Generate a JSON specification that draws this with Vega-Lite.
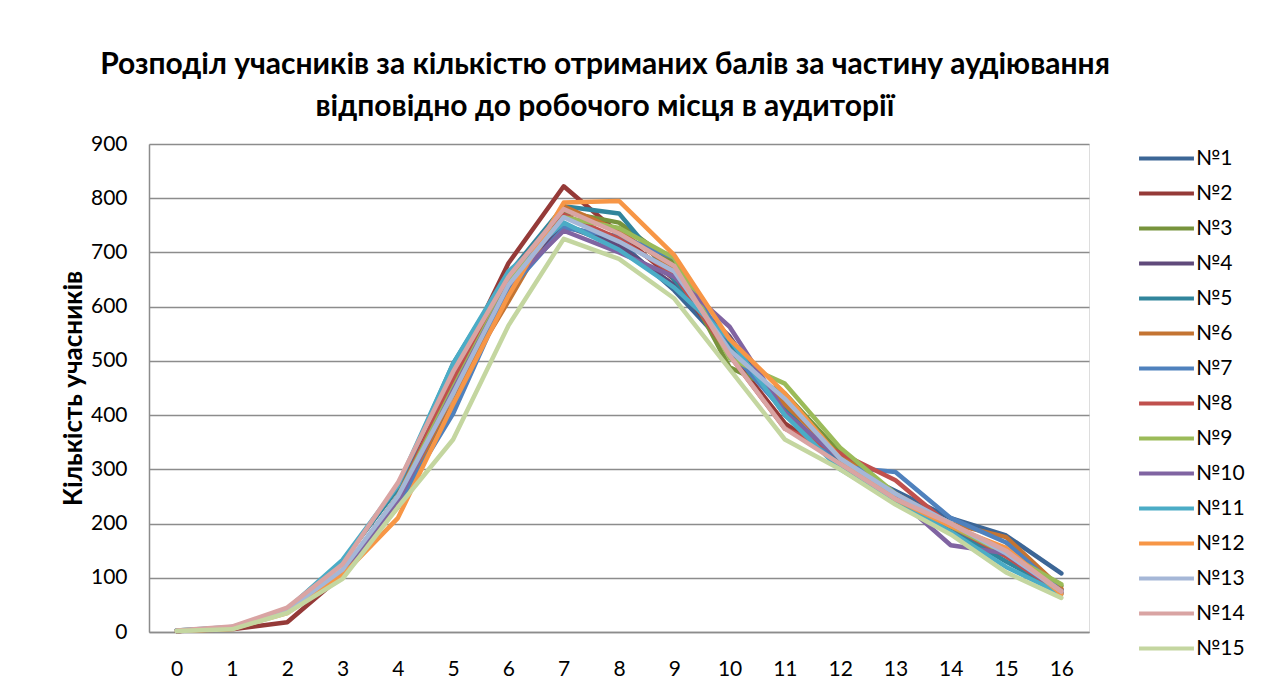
{
  "$schema": "https://vega.github.io/schema/vega-lite/v6.json",
  "width": 940,
  "height": 488,
  "autosize": {"type": "none"},
  "padding": {"left": 149, "top": 144, "right": 196, "bottom": 63},
  "background": "white",
  "title": {
    "text": ["Розподіл учасників за кількістю отриманих балів  за частину аудіювання", "відповідно до робочого місця в аудиторії"],
    "font": "Lato",
    "fontSize": 30,
    "fontWeight": "bold",
    "color": "#000000",
    "lineHeight": 42,
    "anchor": "middle",
    "dx": -14,
    "offset": 11
  },
  "data": {
    "values": [
      {"s":"№1","x":0,"v":2},{"s":"№1","x":1,"v":6},{"s":"№1","x":2,"v":38},{"s":"№1","x":3,"v":105},{"s":"№1","x":4,"v":245},{"s":"№1","x":5,"v":420},{"s":"№1","x":6,"v":640},{"s":"№1","x":7,"v":750},{"s":"№1","x":8,"v":720},{"s":"№1","x":9,"v":630},{"s":"№1","x":10,"v":520},{"s":"№1","x":11,"v":410},{"s":"№1","x":12,"v":310},{"s":"№1","x":13,"v":260},{"s":"№1","x":14,"v":210},{"s":"№1","x":15,"v":178},{"s":"№1","x":16,"v":108},
      {"s":"№2","x":0,"v":2},{"s":"№2","x":1,"v":5},{"s":"№2","x":2,"v":18},{"s":"№2","x":3,"v":105},{"s":"№2","x":4,"v":250},{"s":"№2","x":5,"v":470},{"s":"№2","x":6,"v":680},{"s":"№2","x":7,"v":822},{"s":"№2","x":8,"v":735},{"s":"№2","x":9,"v":650},{"s":"№2","x":10,"v":515},{"s":"№2","x":11,"v":385},{"s":"№2","x":12,"v":315},{"s":"№2","x":13,"v":250},{"s":"№2","x":14,"v":190},{"s":"№2","x":15,"v":140},{"s":"№2","x":16,"v":75},
      {"s":"№3","x":0,"v":2},{"s":"№3","x":1,"v":8},{"s":"№3","x":2,"v":40},{"s":"№3","x":3,"v":110},{"s":"№3","x":4,"v":250},{"s":"№3","x":5,"v":455},{"s":"№3","x":6,"v":650},{"s":"№3","x":7,"v":775},{"s":"№3","x":8,"v":755},{"s":"№3","x":9,"v":680},{"s":"№3","x":10,"v":488},{"s":"№3","x":11,"v":440},{"s":"№3","x":12,"v":330},{"s":"№3","x":13,"v":250},{"s":"№3","x":14,"v":195},{"s":"№3","x":15,"v":150},{"s":"№3","x":16,"v":85},
      {"s":"№4","x":0,"v":2},{"s":"№4","x":1,"v":7},{"s":"№4","x":2,"v":38},{"s":"№4","x":3,"v":108},{"s":"№4","x":4,"v":240},{"s":"№4","x":5,"v":445},{"s":"№4","x":6,"v":640},{"s":"№4","x":7,"v":750},{"s":"№4","x":8,"v":712},{"s":"№4","x":9,"v":640},{"s":"№4","x":10,"v":545},{"s":"№4","x":11,"v":400},{"s":"№4","x":12,"v":320},{"s":"№4","x":13,"v":250},{"s":"№4","x":14,"v":190},{"s":"№4","x":15,"v":150},{"s":"№4","x":16,"v":78},
      {"s":"№5","x":0,"v":3},{"s":"№5","x":1,"v":8},{"s":"№5","x":2,"v":42},{"s":"№5","x":3,"v":130},{"s":"№5","x":4,"v":265},{"s":"№5","x":5,"v":495},{"s":"№5","x":6,"v":660},{"s":"№5","x":7,"v":785},{"s":"№5","x":8,"v":772},{"s":"№5","x":9,"v":650},{"s":"№5","x":10,"v":530},{"s":"№5","x":11,"v":410},{"s":"№5","x":12,"v":310},{"s":"№5","x":13,"v":240},{"s":"№5","x":14,"v":190},{"s":"№5","x":15,"v":130},{"s":"№5","x":16,"v":75},
      {"s":"№6","x":0,"v":2},{"s":"№6","x":1,"v":6},{"s":"№6","x":2,"v":38},{"s":"№6","x":3,"v":110},{"s":"№6","x":4,"v":230},{"s":"№6","x":5,"v":440},{"s":"№6","x":6,"v":610},{"s":"№6","x":7,"v":785},{"s":"№6","x":8,"v":740},{"s":"№6","x":9,"v":670},{"s":"№6","x":10,"v":520},{"s":"№6","x":11,"v":420},{"s":"№6","x":12,"v":325},{"s":"№6","x":13,"v":255},{"s":"№6","x":14,"v":200},{"s":"№6","x":15,"v":175},{"s":"№6","x":16,"v":80},
      {"s":"№7","x":0,"v":2},{"s":"№7","x":1,"v":7},{"s":"№7","x":2,"v":38},{"s":"№7","x":3,"v":110},{"s":"№7","x":4,"v":235},{"s":"№7","x":5,"v":403},{"s":"№7","x":6,"v":630},{"s":"№7","x":7,"v":745},{"s":"№7","x":8,"v":730},{"s":"№7","x":9,"v":690},{"s":"№7","x":10,"v":520},{"s":"№7","x":11,"v":405},{"s":"№7","x":12,"v":305},{"s":"№7","x":13,"v":295},{"s":"№7","x":14,"v":210},{"s":"№7","x":15,"v":165},{"s":"№7","x":16,"v":75},
      {"s":"№8","x":0,"v":2},{"s":"№8","x":1,"v":8},{"s":"№8","x":2,"v":40},{"s":"№8","x":3,"v":112},{"s":"№8","x":4,"v":250},{"s":"№8","x":5,"v":465},{"s":"№8","x":6,"v":660},{"s":"№8","x":7,"v":770},{"s":"№8","x":8,"v":725},{"s":"№8","x":9,"v":660},{"s":"№8","x":10,"v":510},{"s":"№8","x":11,"v":375},{"s":"№8","x":12,"v":330},{"s":"№8","x":13,"v":280},{"s":"№8","x":14,"v":195},{"s":"№8","x":15,"v":140},{"s":"№8","x":16,"v":72},
      {"s":"№9","x":0,"v":2},{"s":"№9","x":1,"v":8},{"s":"№9","x":2,"v":40},{"s":"№9","x":3,"v":112},{"s":"№9","x":4,"v":250},{"s":"№9","x":5,"v":450},{"s":"№9","x":6,"v":645},{"s":"№9","x":7,"v":765},{"s":"№9","x":8,"v":745},{"s":"№9","x":9,"v":690},{"s":"№9","x":10,"v":505},{"s":"№9","x":11,"v":458},{"s":"№9","x":12,"v":340},{"s":"№9","x":13,"v":255},{"s":"№9","x":14,"v":195},{"s":"№9","x":15,"v":145},{"s":"№9","x":16,"v":88},
      {"s":"№10","x":0,"v":2},{"s":"№10","x":1,"v":7},{"s":"№10","x":2,"v":38},{"s":"№10","x":3,"v":110},{"s":"№10","x":4,"v":240},{"s":"№10","x":5,"v":445},{"s":"№10","x":6,"v":640},{"s":"№10","x":7,"v":740},{"s":"№10","x":8,"v":700},{"s":"№10","x":9,"v":655},{"s":"№10","x":10,"v":563},{"s":"№10","x":11,"v":405},{"s":"№10","x":12,"v":320},{"s":"№10","x":13,"v":250},{"s":"№10","x":14,"v":160},{"s":"№10","x":15,"v":145},{"s":"№10","x":16,"v":72},
      {"s":"№11","x":0,"v":3},{"s":"№11","x":1,"v":9},{"s":"№11","x":2,"v":42},{"s":"№11","x":3,"v":133},{"s":"№11","x":4,"v":270},{"s":"№11","x":5,"v":495},{"s":"№11","x":6,"v":665},{"s":"№11","x":7,"v":755},{"s":"№11","x":8,"v":705},{"s":"№11","x":9,"v":635},{"s":"№11","x":10,"v":540},{"s":"№11","x":11,"v":400},{"s":"№11","x":12,"v":300},{"s":"№11","x":13,"v":240},{"s":"№11","x":14,"v":185},{"s":"№11","x":15,"v":120},{"s":"№11","x":16,"v":70},
      {"s":"№12","x":0,"v":2},{"s":"№12","x":1,"v":6},{"s":"№12","x":2,"v":35},{"s":"№12","x":3,"v":105},{"s":"№12","x":4,"v":210},{"s":"№12","x":5,"v":420},{"s":"№12","x":6,"v":620},{"s":"№12","x":7,"v":792},{"s":"№12","x":8,"v":795},{"s":"№12","x":9,"v":695},{"s":"№12","x":10,"v":540},{"s":"№12","x":11,"v":440},{"s":"№12","x":12,"v":320},{"s":"№12","x":13,"v":245},{"s":"№12","x":14,"v":195},{"s":"№12","x":15,"v":155},{"s":"№12","x":16,"v":70},
      {"s":"№13","x":0,"v":2},{"s":"№13","x":1,"v":8},{"s":"№13","x":2,"v":40},{"s":"№13","x":3,"v":115},{"s":"№13","x":4,"v":250},{"s":"№13","x":5,"v":440},{"s":"№13","x":6,"v":640},{"s":"№13","x":7,"v":765},{"s":"№13","x":8,"v":720},{"s":"№13","x":9,"v":665},{"s":"№13","x":10,"v":520},{"s":"№13","x":11,"v":430},{"s":"№13","x":12,"v":320},{"s":"№13","x":13,"v":255},{"s":"№13","x":14,"v":200},{"s":"№13","x":15,"v":145},{"s":"№13","x":16,"v":75},
      {"s":"№14","x":0,"v":3},{"s":"№14","x":1,"v":10},{"s":"№14","x":2,"v":45},{"s":"№14","x":3,"v":125},{"s":"№14","x":4,"v":275},{"s":"№14","x":5,"v":480},{"s":"№14","x":6,"v":655},{"s":"№14","x":7,"v":780},{"s":"№14","x":8,"v":735},{"s":"№14","x":9,"v":675},{"s":"№14","x":10,"v":510},{"s":"№14","x":11,"v":375},{"s":"№14","x":12,"v":310},{"s":"№14","x":13,"v":245},{"s":"№14","x":14,"v":200},{"s":"№14","x":15,"v":150},{"s":"№14","x":16,"v":75},
      {"s":"№15","x":0,"v":2},{"s":"№15","x":1,"v":5},{"s":"№15","x":2,"v":35},{"s":"№15","x":3,"v":98},{"s":"№15","x":4,"v":230},{"s":"№15","x":5,"v":355},{"s":"№15","x":6,"v":565},{"s":"№15","x":7,"v":725},{"s":"№15","x":8,"v":688},{"s":"№15","x":9,"v":615},{"s":"№15","x":10,"v":485},{"s":"№15","x":11,"v":355},{"s":"№15","x":12,"v":300},{"s":"№15","x":13,"v":235},{"s":"№15","x":14,"v":180},{"s":"№15","x":15,"v":110},{"s":"№15","x":16,"v":63}
    ]
  },
  "mark": {"type": "line", "strokeWidth": 4.5, "strokeJoin": "round", "strokeCap": "round"},
  "encoding": {
    "x": {
      "field": "x",
      "type": "ordinal",
      "scale": {"type": "point", "padding": 0.5},
      "axis": {
        "title": null,
        "labelAngle": 0,
        "labelFont": "Lato",
        "labelFontSize": 21,
        "labelColor": "#000000",
        "labelPadding": 26,
        "ticks": false,
        "domainColor": "#8c8c8c",
        "domainWidth": 1.5,
        "grid": false
      }
    },
    "y": {
      "field": "v",
      "type": "quantitative",
      "scale": {"domain": [0, 900], "nice": false},
      "axis": {
        "title": "Кількість учасників",
        "titleFont": "Lato",
        "titleFontSize": 26,
        "titleFontWeight": "bold",
        "titleColor": "#000000",
        "titlePadding": 4,
        "values": [0, 100, 200, 300, 400, 500, 600, 700, 800, 900],
        "labelFont": "Lato",
        "labelFontSize": 21,
        "labelColor": "#000000",
        "labelPadding": 22,
        "ticks": false,
        "domainColor": "#8c8c8c",
        "domainWidth": 1.5,
        "gridColor": "#8c8c8c",
        "gridWidth": 1.5
      }
    },
    "color": {
      "field": "s",
      "type": "nominal",
      "sort": null,
      "scale": {
        "domain": ["№1","№2","№3","№4","№5","№6","№7","№8","№9","№10","№11","№12","№13","№14","№15"],
        "range": ["#3C6696","#953A38","#77933C","#604A7B","#31859C","#C47432","#4F81BD","#C0504D","#9BBB59","#8064A2","#4BACC6","#F79646","#A5B7D7","#D9A4A3","#C4D6A0"]
      },
      "legend": {
        "title": null,
        "orient": "none",
        "legendX": 993,
        "legendY": -10,
        "symbolType": "M-1.22,0H1.22",
        "symbolSize": 2025,
        "symbolStrokeWidth": 4,
        "symbolStrokeCap": "round",
        "labelFont": "Lato",
        "labelFontSize": 21,
        "labelColor": "#000000",
        "labelOffset": 5,
        "rowPadding": 0
      }
    }
  }
}
